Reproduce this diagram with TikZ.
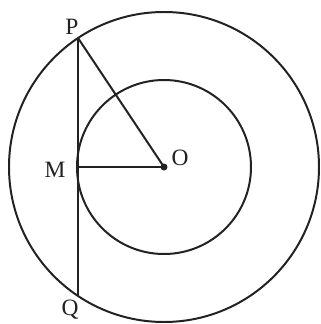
\documentclass[tikz,border=0pt]{standalone}
\usepackage{fontspec}
\setmainfont{Liberation Serif}
\usetikzlibrary{positioning}
\definecolor{InkGray}{HTML}{222222}

\begin{document}
\begin{tikzpicture}[
  x=0.03cm,y=0.03cm,
  circ/.style={draw=InkGray,line width=1.7pt},
  seg/.style={draw=InkGray,line width=1.7pt},
  lbl/.style={font=\fontsize{20}{24}\selectfont,text=InkGray,inner sep=0pt}
]
\useasboundingbox (0,0) rectangle (321,324);
\coordinate (O) at (164,157);
\coordinate (M) at (78,157);
\coordinate (P) at (78,286);
\coordinate (Q) at (78,28);
\draw[circ] (O) circle[radius=155];
\draw[circ] (O) circle[radius=87];
\draw[seg] (P) -- (Q);
\draw[seg] (P) -- (O);
\draw[seg] (M) -- (O);
\fill[InkGray] (O) circle[radius=3.5];
\node[lbl] (pl) at (72,297) {P};
\node[lbl] (ml) at (55,154) {M};
\node[lbl] (ol) at (180,166) {O};
\node[lbl] (ql) at (70,14) {Q};
\end{tikzpicture}
\end{document}
